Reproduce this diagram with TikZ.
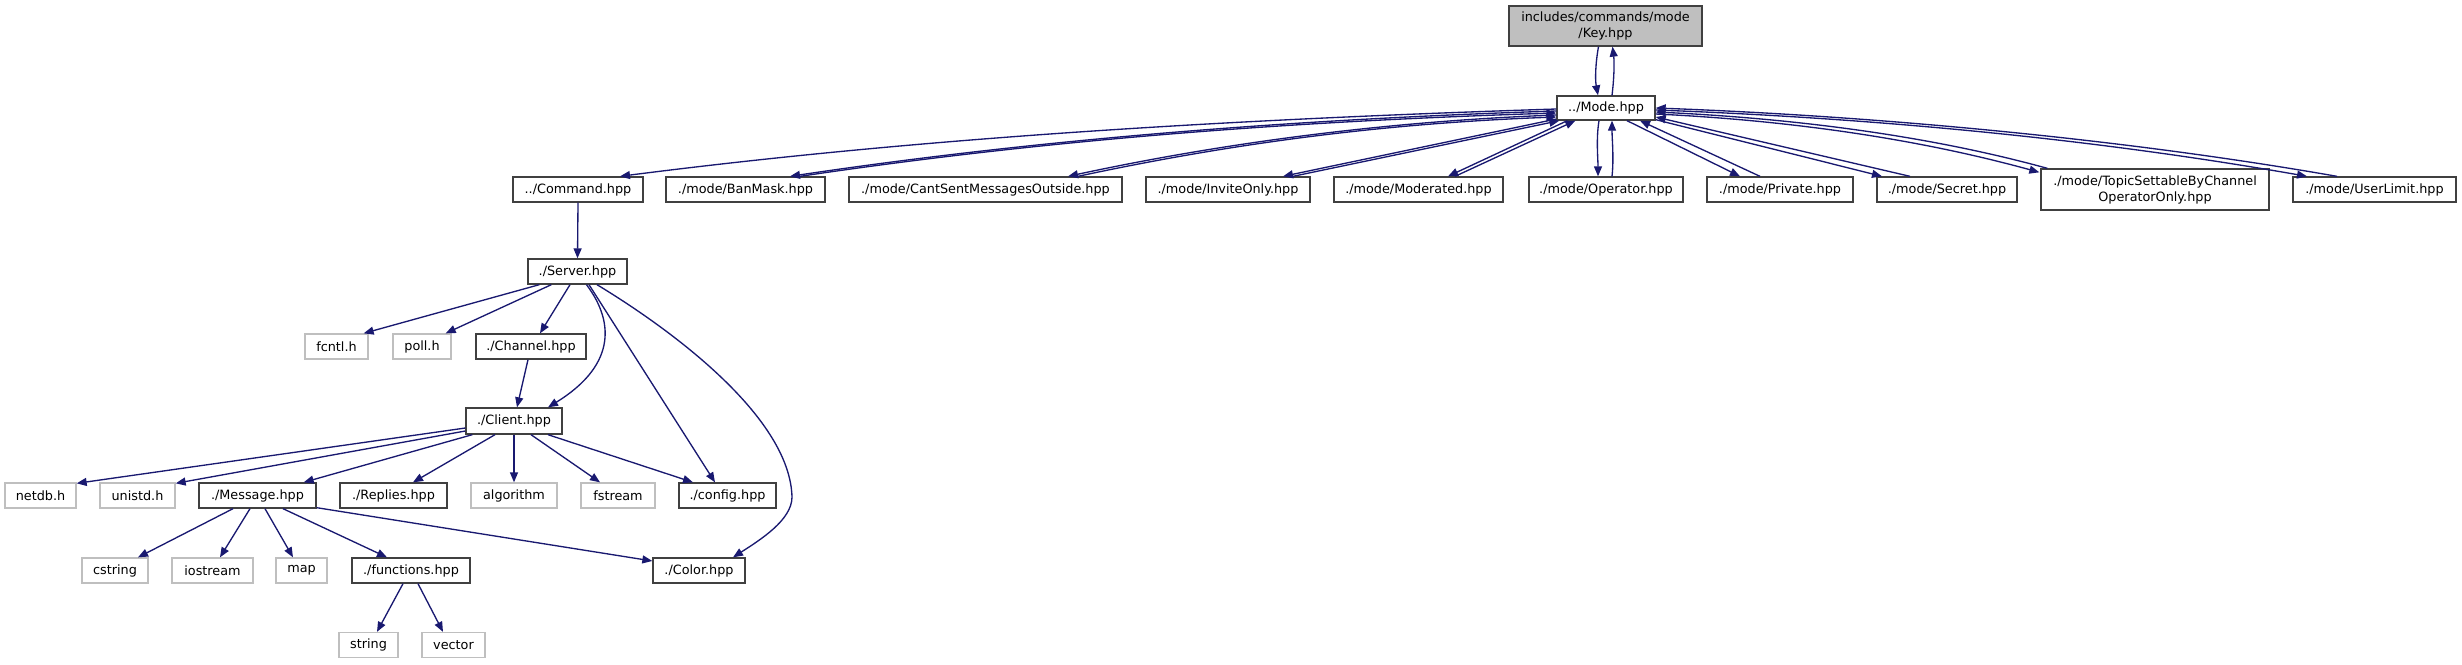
\documentclass[tikz,border=0pt]{standalone}
\usepackage{fontspec}
\setmainfont{DejaVu Sans}
\usetikzlibrary{arrows.meta,calc}
\definecolor{edgec}{HTML}{191970}
\definecolor{projb}{HTML}{404040}
\definecolor{sysb}{HTML}{BFBFBF}
\definecolor{rootf}{HTML}{BFBFBF}
\begin{document}
\begin{tikzpicture}[x=0.75pt,y=-0.75pt,
  font=\fontsize{9.6}{12}\selectfont,
  box/.style={rectangle,draw=projb,line width=1pt,inner sep=0pt,align=center,fill=white},
  sys/.style={box,draw=sysb},
  root/.style={box,fill=rootf},
  wd/.style={minimum width=#1*0.75pt},
  ht/.style={minimum height=#1*0.75pt},
  edge/.style={draw=edgec,line width=1pt,-{Triangle[length=7.5pt,width=6pt]}}]
\useasboundingbox (0,0) rectangle (2462,664);
% nodes
\node[root,wd=193,ht=40] (key) at (1605.5,26) {includes/commands/mode\\/Key.hpp};
\node[box,wd=98,ht=24] (mode) at (1606,108) {../Mode.hpp};
\node[box,wd=130,ht=25] (command) at (578,189.5) {../Command.hpp};
\node[box,wd=159,ht=25] (banmask) at (745.5,189.5) {./mode/BanMask.hpp};
\node[box,wd=273,ht=25] (cantsent) at (985.5,189.5) {./mode/CantSentMessagesOutside.hpp};
\node[box,wd=164,ht=25] (invite) at (1228,189.5) {./mode/InviteOnly.hpp};
\node[box,wd=169,ht=25] (moderated) at (1418.5,189.5) {./mode/Moderated.hpp};
\node[box,wd=154,ht=25] (operator) at (1606,189.5) {./mode/Operator.hpp};
\node[box,wd=146,ht=25] (private) at (1780,189.5) {./mode/Private.hpp};
\node[box,wd=140,ht=25] (secret) at (1947,189.5) {./mode/Secret.hpp};
\node[box,wd=228,ht=41] (topic) at (2155,189.5) {./mode/TopicSettableByChannel\\OperatorOnly.hpp};
\node[box,wd=163,ht=25] (userlimit) at (2374.5,189.5) {./mode/UserLimit.hpp};
\node[box,wd=99,ht=25] (server) at (577.5,271.5) {./Server.hpp};
\node[sys,wd=63,ht=25] (fcntl) at (336.5,346.5) {fcntl.h};
\node[sys,wd=58,ht=25] (poll) at (422,346.5) {poll.h};
\node[box,wd=110,ht=25] (channel) at (531,346.5) {./Channel.hpp};
\node[box,wd=96,ht=26] (client) at (514,421) {./Client.hpp};
\node[sys,wd=71,ht=25] (netdb) at (40.5,495.5) {netdb.h};
\node[sys,wd=75,ht=25] (unistd) at (137.5,495.5) {unistd.h};
\node[box,wd=117,ht=25] (message) at (257.5,495.5) {./Message.hpp};
\node[box,wd=107,ht=25] (replies) at (393.5,495.5) {./Replies.hpp};
\node[sys,wd=86,ht=25] (algorithm) at (514,495.5) {algorithm};
\node[sys,wd=74,ht=25] (fstream) at (618,495.5) {fstream};
\node[box,wd=97,ht=25] (config) at (727.5,495.5) {./config.hpp};
\node[sys,wd=66,ht=25] (cstring) at (115,570.5) {cstring};
\node[sys,wd=81,ht=25] (iostream) at (212.5,570.5) {iostream};
\node[sys,wd=51,ht=25] (map) at (301.5,570.5) {map};
\node[box,wd=118,ht=25] (functions) at (411,570.5) {./functions.hpp};
\node[box,wd=92,ht=25] (color) at (699,570.5) {./Color.hpp};
\node[sys,wd=59,ht=25] (string) at (368.5,645) {string};
\node[sys,wd=63,ht=25] (vector) at (453.5,645) {vector};
% edges: Key <-> Mode
\draw[edge] ($(key.south)+(-7,0)$) .. controls +(-3,16) and +(-3,-16) .. ($(mode.north)+(-8,0)$);
\draw[edge] ($(mode.north)+(6,0)$) .. controls +(2,-16) and +(2,16) .. ($(key.south)+(7,0)$);
% Mode <-> row 2
\draw[edge] ($(mode.west)+(0,1)$) .. controls +(-312,10) and +(312,-40) .. ($(command.north)+(42,0)$);
\draw[edge] ($(mode.west)+(0,3)$) .. controls +(-255,8) and +(255,-38) .. ($(banmask.north)+(44.5,0)$);
\draw[edge] ($(banmask.north)+(54.5,0)$) .. controls +(255,-38) and +(-255,8) .. ($(mode.west)+(0,5)$);
\draw[edge] ($(mode.west)+(0,7)$) .. controls +(-163,6) and +(163,-35) .. ($(cantsent.north)+(82.5,0)$);
\draw[edge] ($(cantsent.north)+(92.5,0)$) .. controls +(163,-35) and +(-163,6) .. ($(mode.west)+(0,9)$);
\draw[edge] ($(mode.west)+(0,11)$) -- ($(invite.north)+(55,0)$);
\draw[edge] ($(invite.north)+(65,0)$) -- ($(mode.south west)+(3,0)$);
\draw[edge] ($(mode.south west)+(11,0)$) -- ($(moderated.north)+(29.5,0)$);
\draw[edge] ($(moderated.north)+(36.5,0)$) -- ($(mode.south west)+(19,0)$);
\draw[edge] ($(mode.south)+(-7,0)$) .. controls +(-3,18) and +(0,-18) .. ($(operator.north)+(-8,0)$);
\draw[edge] ($(operator.north)+(6,0)$) .. controls +(2,-18) and +(0,18) .. ($(mode.south)+(6,0)$);
\draw[edge] ($(mode.south)+(21,0)$) -- ($(private.north)+(-40,0)$);
\draw[edge] ($(private.north)+(-20,0)$) -- ($(mode.south)+(34,0)$);
\draw[edge] ($(mode.south east)+(0,-1)$) -- ($(secret.north)+(-65,0)$);
\draw[edge] ($(secret.north)+(-37,0)$) -- ($(mode.east)+(0,9)$);
\draw[edge] ($(mode.east)+(0,6)$) .. controls +(127,6) and +(-127,-35) .. ($(topic.north west)+(-1,4)$);
\draw[edge] ($(topic.north west)+(7,0)$) .. controls +(-127,-35) and +(127,6) .. ($(mode.east)+(0,4)$);
\draw[edge] ($(mode.east)+(0,2)$) .. controls +(217,8) and +(-217,-38) .. ($(userlimit.north)+(-67.5,0)$);
\draw[edge] ($(userlimit.north)+(-37.5,0)$) .. controls +(-217,-38) and +(217,8) .. (mode.east);
% lower part
\draw[edge] (command.south) -- (server.north);
\draw[edge] ($(server.south west)+(12,0)$) -- ($(fcntl.north east)+(-5,0)$);
\draw[edge] ($(server.south west)+(24,0)$) -- ($(poll.north east)+(-6,0)$);
\draw[edge] ($(server.south)+(-7.5,0)$) -- ($(channel.north)+(9,0)$);
\draw[edge] ($(server.south)+(9,0)$) .. controls +(30,40) and +(65,-40) .. ($(client.north)+(34,0)$);
\draw[edge] ($(server.south)+(11.5,0)$) -- ($(config.north)+(-12.5,0)$);
\draw[edge] ($(server.south)+(19.5,0)$) .. controls (680,335) and (790,420) .. (792,497) .. controls (792,520) and (760,540) .. ($(color.north)+(34,0)$);
\draw[edge] ($(channel.south)+(-3,0)$) -- ($(client.north)+(3,0)$);
\draw[edge] ($(client.west)+(0,7)$) -- ($(netdb.north east)+(0,1)$);
\draw[edge] ($(client.west)+(0,10)$) -- ($(unistd.north east)+(0,1)$);
\draw[edge] ($(client.south west)+(7,0)$) -- ($(message.north east)+(-13,0)$);
\draw[edge] ($(client.south)+(-19,0)$) -- ($(replies.north)+(19.5,0)$);
\draw[edge] (client.south) -- (algorithm.north);
\draw[edge] ($(client.south)+(17,0)$) -- ($(fstream.north)+(-18,0)$);
\draw[edge] ($(client.south)+(34,0)$) -- ($(config.north)+(-34.5,0)$);
\draw[edge] ($(message.south)+(-24.5,0)$) -- ($(cstring.north)+(23,0)$);
\draw[edge] ($(message.south)+(-7.5,0)$) -- ($(iostream.north)+(7.5,0)$);
\draw[edge] ($(message.south)+(7.5,0)$) -- ($(map.north)+(-8.5,0)$);
\draw[edge] ($(message.south)+(25.5,0)$) -- ($(functions.north)+(-24,0)$);
\draw[edge] ($(message.south east)+(0,-1)$) -- ($(color.west)+(0,-9.5)$);
\draw[edge] ($(functions.south)+(-8,0)$) -- ($(string.north)+(8.5,0)$);
\draw[edge] ($(functions.south)+(7,0)$) -- ($(vector.north)+(-10.5,0)$);
\end{tikzpicture}
\end{document}
